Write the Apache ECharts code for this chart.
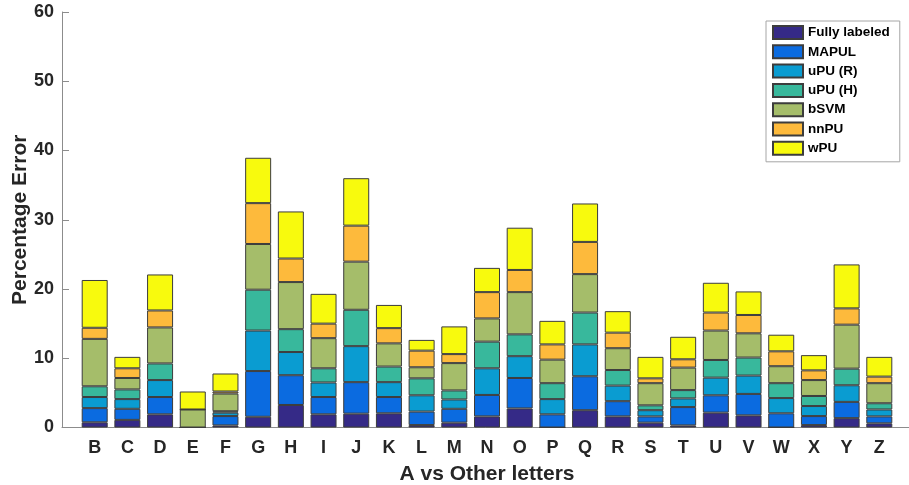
<!DOCTYPE html>
<html>
<head>
<meta charset="utf-8">
<script src="https://cdn.jsdelivr.net/npm/echarts@6/dist/echarts.min.js"></script>
<style>
  html, body { margin: 0; padding: 0; background: #fff; }
  #chart { width: 909px; height: 485px; }
</style>
</head>
<body>
<div id="chart"></div>
<script>
  // 数据
  const categories = ['B', 'C', 'D', 'E', 'F', 'G', 'H', 'I', 'J', 'K', 'L', 'M', 'N', 'O', 'P', 'Q', 'R', 'S', 'T', 'U', 'V', 'W', 'X', 'Y', 'Z'];
  const seriesNames = ['Fully labeled', 'MAPUL', 'uPU (R)', 'uPU (H)', 'bSVM', 'nnPU', 'wPU'];
  const colors = ['#352a87', '#0b6be0', '#0a9cd1', '#38b89c', '#a5bd6a', '#fdba3c', '#f8fa0d'];

  const fullyLabeled = [0.75, 1.1, 1.9, 0, 0.3, 1.55, 3.25, 1.9, 2.0, 2.05, 0.35, 0.7, 1.6, 2.75, 0, 2.5, 1.6, 0.7, 0.3, 2.15, 1.75, 0, 0.35, 1.35, 0.6];
  const mapul = [2.05, 1.6, 2.5, 0, 1.35, 6.6, 4.3, 2.5, 4.55, 2.35, 1.95, 2.0, 3.1, 4.4, 1.9, 4.9, 2.2, 0.9, 2.65, 2.5, 3.1, 2.05, 1.3, 2.35, 1.0];
  const upuR = [1.6, 1.4, 2.45, 0, 0.5, 5.85, 3.35, 2.1, 5.2, 2.15, 2.35, 1.35, 3.85, 3.15, 2.2, 4.6, 2.25, 0.9, 1.25, 2.55, 2.65, 2.2, 1.45, 2.4, 1.0];
  const upuH = [1.55, 1.4, 2.4, 0, 0.2, 5.9, 3.3, 2.05, 5.25, 2.25, 2.45, 1.3, 3.85, 3.15, 2.3, 4.6, 2.25, 0.7, 1.2, 2.55, 2.6, 2.15, 1.45, 2.4, 0.9];
  const bsvm = [6.85, 1.65, 5.2, 2.6, 2.55, 6.6, 6.8, 4.35, 6.95, 3.35, 1.6, 3.95, 3.35, 6.1, 3.4, 5.55, 3.15, 3.2, 3.25, 4.25, 3.5, 2.45, 2.3, 6.35, 2.9];
  const nnpu = [1.6, 1.4, 2.45, 0, 0.3, 5.9, 3.4, 2.1, 5.2, 2.2, 2.4, 1.3, 3.8, 3.2, 2.2, 4.65, 2.25, 0.7, 1.2, 2.6, 2.65, 2.15, 1.4, 2.35, 0.95];
  const wpu = [6.9, 1.65, 5.2, 2.6, 2.6, 6.55, 6.8, 4.3, 6.85, 3.35, 1.55, 4.0, 3.5, 6.1, 3.4, 5.55, 3.1, 3.1, 3.25, 4.3, 3.4, 2.4, 2.2, 6.35, 2.85];

  const seriesData = [fullyLabeled, mapul, upuR, upuH, bsvm, nnpu, wpu];

  const chart = echarts.init(document.getElementById('chart'));

  const font = '"Liberation Sans", Arial, Helvetica, sans-serif';
  const textColor = '#262626';

  const option = {
    animation: false,
    backgroundColor: '#fff',
    grid: { left: 62, right: -3, top: 12, bottom: 57.5, containLabel: false, outerBoundsMode: 'none' },
    legend: {
      orient: 'vertical',
      left: 766,
      top: 21,
      padding: [4, 10, 6, 6],
      icon: 'rect',
      itemWidth: 30,
      itemHeight: 13,
      itemGap: 4.3,
      borderColor: '#a6a6a6',
      borderWidth: 1,
      borderRadius: 0,
      backgroundColor: '#fff',
      data: seriesNames,
      textStyle: { fontFamily: font, fontWeight: 'bold', fontSize: 13.5, color: '#000', lineHeight: 13 },
    },
    xAxis: {
      type: 'category',
      // 两端留白，对应 MATLAB 的 xlim [0, 26]
      data: [''].concat(categories, ['']),
      boundaryGap: false,
      name: 'A vs Other letters',
      nameLocation: 'middle',
      nameGap: 36,
      nameMoveOverlap: false,
      nameTextStyle: { fontFamily: font, fontWeight: 'bold', fontSize: 21, color: textColor },
      axisLine: { lineStyle: { color: '#8c8c8c', width: 1 } },
      axisTick: { show: false },
      splitLine: { show: false },
      axisLabel: {
        interval: 0,
        margin: 12,
        fontFamily: font,
        fontWeight: 'bold',
        fontSize: 18,
        color: textColor,
      },
    },
    yAxis: {
      type: 'value',
      min: 0,
      max: 60,
      interval: 10,
      name: 'Percentage Error',
      nameLocation: 'middle',
      nameRotate: 90,
      nameGap: 31,
      nameMoveOverlap: false,
      nameTextStyle: { fontFamily: font, fontWeight: 'bold', fontSize: 21, color: textColor },
      axisLine: { show: true, lineStyle: { color: '#8c8c8c', width: 1 } },
      axisTick: { show: true, inside: true, length: 7, lineStyle: { color: '#8c8c8c' } },
      splitLine: { show: false },
      axisLabel: {
        margin: 8,
        fontFamily: font,
        fontWeight: 'bold',
        fontSize: 18,
        color: textColor,
      },
    },
    series: seriesNames.map((name, i) => ({
      name,
      type: 'bar',
      stack: 'total',
      barWidth: 26,
      data: [null].concat(seriesData[i], [null]),
      itemStyle: {
        color: colors[i],
        borderColor: '#3c3c3c',
        borderWidth: 1,
      },
      emphasis: { disabled: true },
    })),
  };

  chart.setOption(option);
</script>
</body>
</html>
